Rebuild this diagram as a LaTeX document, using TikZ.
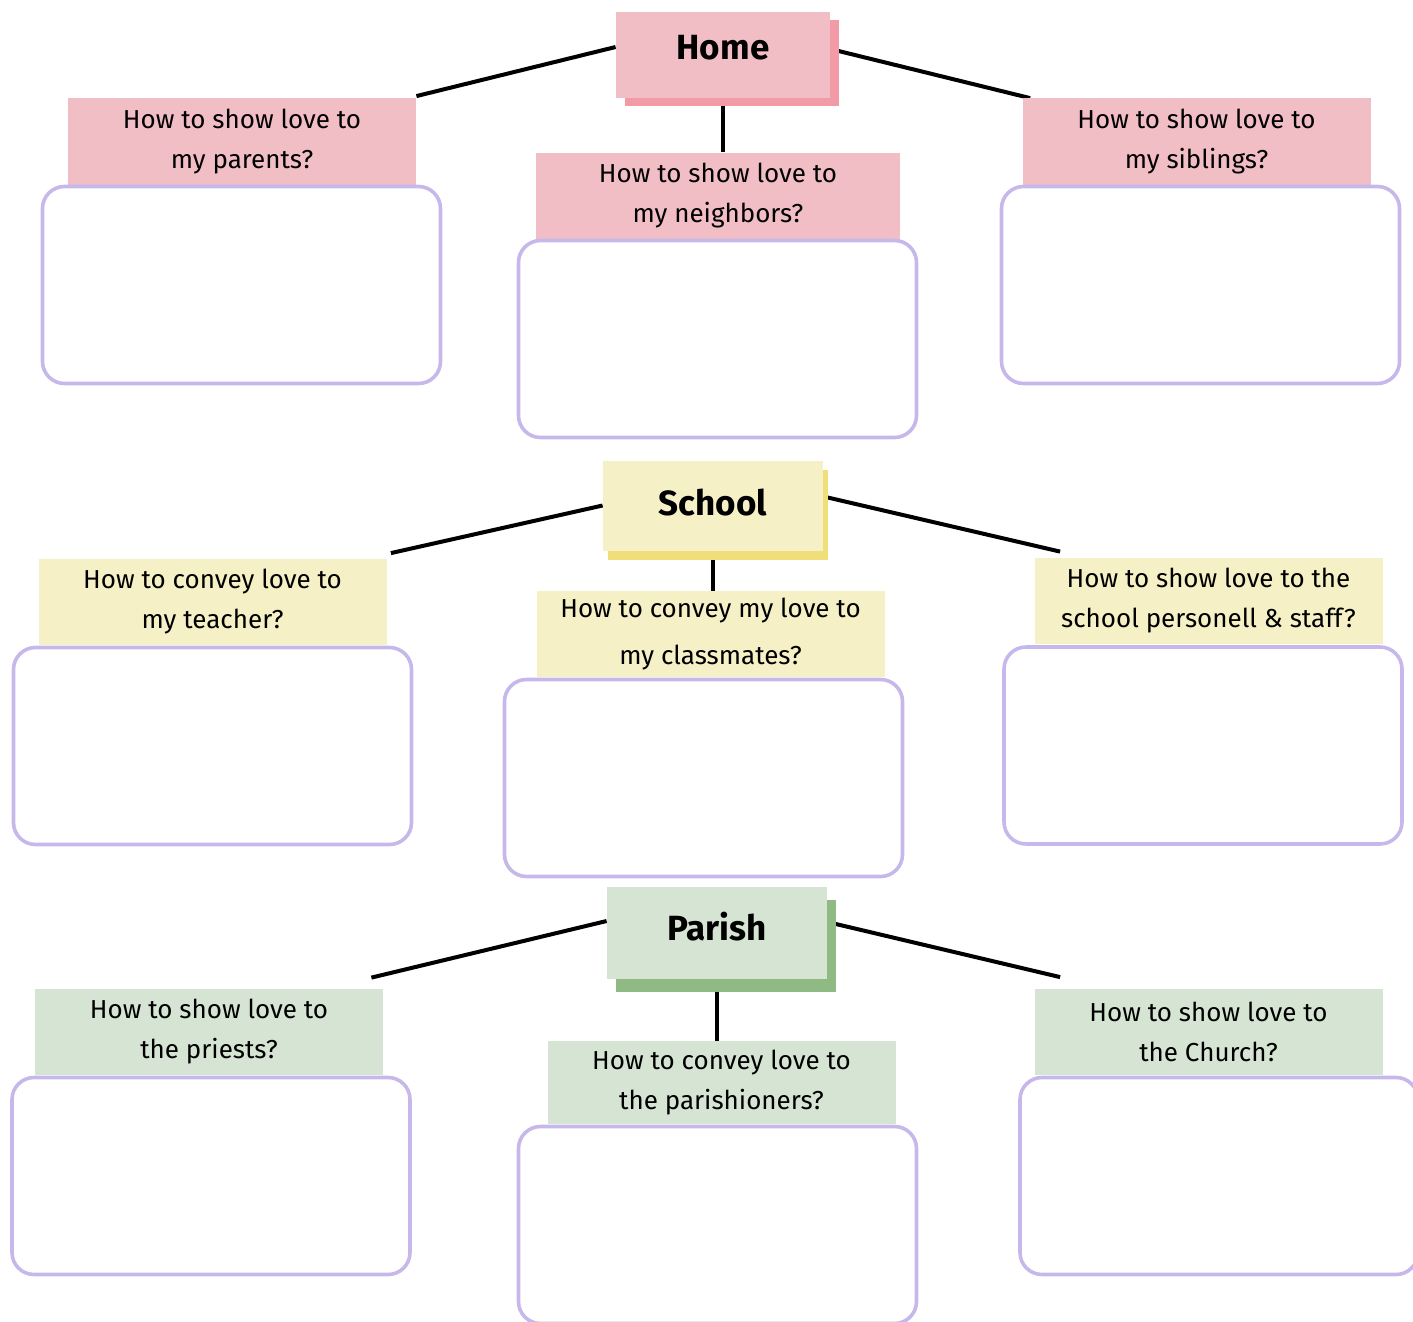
\documentclass[tikz,border=0pt]{standalone}
\usepackage{fontspec}
\setmainfont{Fira Sans}
\usetikzlibrary{shadows,backgrounds}
\definecolor{homefill}{HTML}{F2BEC6}
\definecolor{homeshade}{HTML}{F29BA7}
\definecolor{schoolfill}{HTML}{F5F0C6}
\definecolor{schoolshade}{HTML}{F0DE7A}
\definecolor{parishfill}{HTML}{D6E5D3}
\definecolor{parishshade}{HTML}{8FBA83}
\definecolor{boxline}{HTML}{C6B8EA}
\begin{document}
\begin{tikzpicture}[x=.5pt, y=-.5pt,
        link/.style={line width=2pt},
        head/.style={inner sep=0pt, minimum width=110pt, minimum height=45pt, text height=13pt, font=\bfseries\fontsize{17.5}{20}\selectfont},
        ask/.style={inner sep=0pt, align=center, minimum width=174pt, minimum height=43pt, font=\fontsize{13}{20}\selectfont},
        answer/.style={draw=boxline, line width=1.8pt, rounded corners=11pt, minimum width=199pt, minimum height=98.5pt}]
    \useasboundingbox (0,0) rectangle (1413,1322);
    \clip (0,0) rectangle (1413,1322);
    % home
    \node[head, minimum width=107pt, minimum height=43pt, text depth=8pt, fill=homefill, general shadow={fill=homeshade, shadow xshift=4.5pt, shadow yshift=-4pt}] (home) at (723,55) {Home};
    \node[ask, fill=homefill] (parentsq) at (242,141.5) {How to show love to\\my parents?};
    \node[ask, fill=homefill, minimum width=182pt] (neighborsq) at (718,195.5) {How to show love to\\my neighbors?};
    \node[ask, fill=homefill] (siblingsq) at (1196.5,141.5) {How to show love to\\my siblings?};
    \node[answer] (parents) at (241.5,285) {};
    \node[answer] (neighbors) at (717.5,339) {};
    \node[answer] (siblings) at (1200.5,285) {};
    % school
    \node[head, text depth=3.5pt, fill=schoolfill, general shadow={fill=schoolshade, shadow xshift=2.5pt, shadow yshift=-4.5pt}] (school) at (713,505.5) {School};
    \node[ask, fill=schoolfill] (teacherq) at (212.5,601.5) {How to convey love to\\my teacher?};
    \node[ask, fill=schoolfill, font=\fontsize{13}{23.5}\selectfont] (classmatesq) at (710.5,634) {How to convey my love to\\my classmates?};
    \node[ask, fill=schoolfill] (staffq) at (1208.5,601) {How to show love to the\\school personell \& staff?};
    \node[answer] (teacher) at (212.5,746) {};
    \node[answer] (classmates) at (703.5,778) {};
    \node[answer] (staff) at (1203,745.5) {};
    % parish
    \node[head, minimum height=46pt, text depth=6pt, fill=parishfill, general shadow={fill=parishshade, shadow xshift=4.5pt, shadow yshift=-6.5pt}] (parish) at (717,933) {Parish};
    \node[ask, fill=parishfill] (priestsq) at (209,1032) {How to show love to\\the priests?};
    \node[ask, fill=parishfill, minimum height=41.5pt] (parishionersq) at (721.5,1082.5) {How to convey love to\\the parishioners?};
    \node[ask, fill=parishfill] (churchq) at (1208.5,1031.5) {How to show love to\\the Church?};
    \node[answer] (priests) at (211,1176) {};
    \node[answer] (parishioners) at (717.5,1225) {};
    \node[answer] (church) at (1219,1176) {};
    \begin{scope}[on background layer]
        \draw[link] ([yshift=4pt]home.west) -- ([yshift=1pt]parentsq.north east);
        \draw[link] ([yshift=3pt]home.east) -- ([xshift=4pt]siblingsq.north west);
        \draw[link] (home.south) -- (home.south |- neighborsq.north);
        \draw[link] (school.west) -- ([xshift=2pt, yshift=2.5pt]teacherq.north east);
        \draw[link] ([yshift=4.5pt]school.east) -- ([xshift=13pt, yshift=3pt]staffq.north west);
        \draw[link] (school.south) -- (school.south |- classmatesq.north);
        \draw[link] ([yshift=6pt]parish.west) -- ([xshift=-6pt, yshift=5.5pt]priestsq.north east);
        \draw[link] ([yshift=5.5pt]parish.east) -- ([xshift=13pt, yshift=5.5pt]churchq.north west);
        \draw[link] (parish.south) -- (parish.south |- parishionersq.north);
    \end{scope}
\end{tikzpicture}
\end{document}
